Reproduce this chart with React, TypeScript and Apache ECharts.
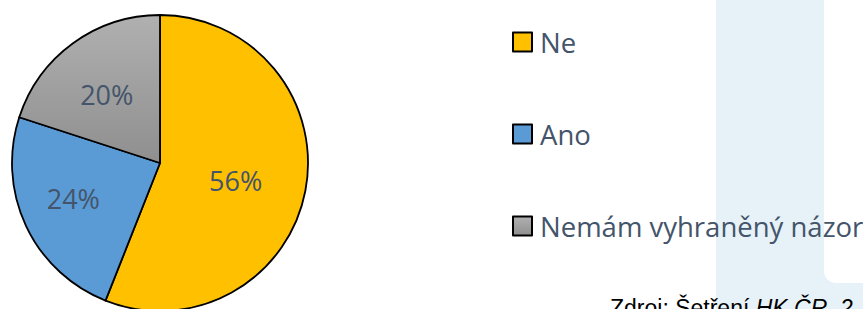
import React, { useEffect, useRef } from "react";
import * as echarts from "echarts";

const categories = ["Ne", "Ano", "Nemám vyhraněný názor"];
const values = [56, 24, 20];
const sourcePlain = "Zdroj: Šetření ";
const sourceItalic = "HK ČR, 2";

export default function App() {
  const ref = useRef<HTMLDivElement>(null);
  useEffect(() => {
    if (!ref.current) return;
    const chart = echarts.init(ref.current, null, { renderer: "svg" });
    const gray = new echarts.graphic.LinearGradient(0, 0, 0, 1, [
      { offset: 0, color: "#b0b0b0" },
      { offset: 1, color: "#8f8f8f" },
    ]);
    const colors: any[] = ["#FFC000", "#5B9BD5", gray];
    const offsets = [[0, 3], [-17, 3], [-8, -6]];
    chart.setOption({
      animation: false,
      backgroundColor: "#ffffff",
      graphic: [
        { type: "rect", z: -10, shape: { x: 716, y: 0, width: 147, height: 309 }, style: { fill: "#e6f2f8" } },
        { type: "rect", z: -9, shape: { x: 824, y: -20, width: 60, height: 303, r: 12 }, style: { fill: "#ffffff" } },
        {
          type: "text",
          left: 610,
          top: 296,
          style: {
            text: "{a|" + sourcePlain + "}{b|" + sourceItalic + "}",
            rich: {
              a: { fontFamily: "Liberation Sans", fontSize: 23, fill: "#000" },
              b: { fontFamily: "Liberation Sans", fontSize: 23, fontStyle: "italic", fill: "#000" },
            },
          },
        },
      ],
      legend: {
        orient: "vertical",
        left: 507,
        top: 22,
        itemGap: 62,
        itemWidth: 19,
        itemHeight: 19,
        icon: "rect",
        data: categories,
        textStyle: { fontFamily: "Open Sans", fontSize: 27.5, color: "#44546A", lineHeight: 30, padding: [0, 0, 0, 3] },
      },
      series: [
        {
          type: "pie",
          center: [160, 163],
          radius: 148,
          startAngle: 90,
          clockwise: true,
          silent: true,
          itemStyle: { borderColor: "#000", borderWidth: 1.8 },
          label: {
            position: "inside",
            formatter: "{d}%",
            fontFamily: "Open Sans",
            fontSize: 27,
            color: "#44546A",
          },
          labelLine: { show: false },
          data: categories.map((c, i) => ({
            name: c,
            value: values[i],
            itemStyle: { color: colors[i] },
            label: { offset: offsets[i] },
          })),
        },
      ],
    });
    return () => chart.dispose();
  }, []);
  return <div ref={ref} style={{ position: "fixed", left: 0, top: 0, width: 863, height: 309 }} />;
}
